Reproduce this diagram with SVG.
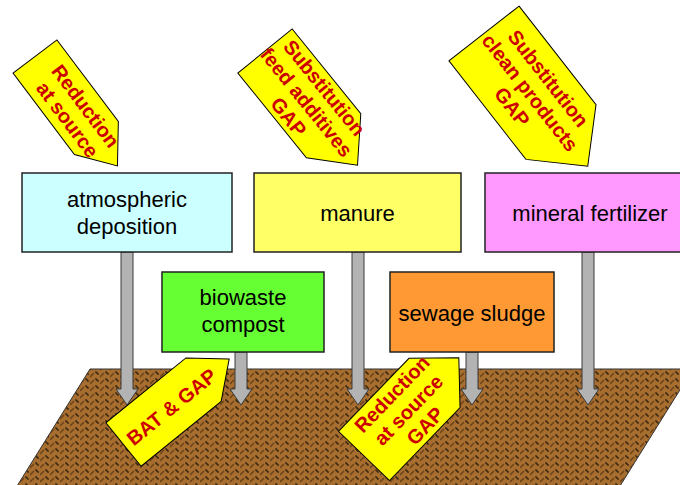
<svg xmlns="http://www.w3.org/2000/svg" xmlns:xlink="http://www.w3.org/1999/xlink" width="680" height="485" viewBox="0 0 680 485">
  <style>
    .box { stroke: #222; stroke-width: 1.5; }
    .lbl { font-family: "Liberation Sans", Arial, sans-serif; font-size: 22px; fill: #000; text-anchor: middle; }
    .tag { fill: #FFFF00; stroke: #000; stroke-width: 1; }
    .tagtxt { font-family: "Liberation Sans", Arial, sans-serif; font-size: 20px; font-weight: bold; fill: #CC0000; text-anchor: middle; }
    .flow { fill: #B3B3B3; stroke: #3a3a3a; stroke-width: 1; }
  </style>
  <defs>
    <pattern id="soilTex" width="10" height="7" patternUnits="userSpaceOnUse">
      <rect width="10" height="7" fill="#A86E30"/>
      <path d="M0,6 L4,2" stroke="#6E4519" stroke-width="1.6" fill="none"/>
      <path d="M5,1 H7 V3 H9" stroke="#1a1208" stroke-width="1" fill="none"/>
    </pattern>
    <!-- downward flow arrows, tip at the origin -->
    <path id="flowLong" d="M-6,-153 H6 V-16 H11 L0,0 L-11,-16 H-6 Z"/>
    <path id="flowShort" d="M-6,-53 H6 V-16 H11 L0,0 L-11,-16 H-6 Z"/>
  </defs>

  <rect width="680" height="485" fill="#FFFFFF"/>

  <!-- soil surface -->
  <g id="soil">
    <polygon points="90,369 693,369 620,486 17,486" fill="url(#soilTex)" stroke="#333" stroke-width="1"/>
  </g>

  <!-- flows from each source into the soil -->
  <g id="connectors">
    <use xlink:href="#flowLong" class="flow" x="127" y="405"/>
    <use xlink:href="#flowShort" class="flow" x="241" y="405"/>
    <use xlink:href="#flowLong" class="flow" x="358" y="405"/>
    <use xlink:href="#flowShort" class="flow" x="472" y="405"/>
    <use xlink:href="#flowLong" class="flow" x="588" y="405"/>
  </g>

  <g id="atmospheric-deposition">
    <rect class="box" x="22" y="173" width="210" height="79" fill="#CCFFFF"/>
    <text class="lbl" x="127" y="207">atmospheric</text>
    <text class="lbl" x="127" y="234">deposition</text>
  </g>

  <g id="manure">
    <rect class="box" x="254" y="173" width="207" height="79" fill="#FFFF66"/>
    <text class="lbl" x="357.5" y="221">manure</text>
  </g>

  <g id="mineral-fertilizer">
    <rect class="box" x="485" y="173" width="210" height="79" fill="#FF99FF"/>
    <text class="lbl" x="590" y="221">mineral fertilizer</text>
  </g>

  <g id="biowaste-compost">
    <rect class="box" x="162" y="272" width="162" height="80" fill="#66FF33"/>
    <text class="lbl" x="243" y="305">biowaste</text>
    <text class="lbl" x="243" y="332">compost</text>
  </g>

  <g id="sewage-sludge">
    <rect class="box" x="390" y="272" width="164" height="80" fill="#FF9933"/>
    <text class="lbl" x="472" y="321">sewage sludge</text>
  </g>

  <!-- measure tags -->
  <g id="tag-atmospheric" transform="translate(35,56.5) rotate(53)">
    <polygon class="tag" points="0,-27.5 102,-27.5 137,0 102,27.5 0,27.5"/>
    <text class="tagtxt" x="70" y="-3.5">Reduction</text>
    <text class="tagtxt" x="70" y="19">at source</text>
  </g>

  <g id="tag-manure" transform="translate(265,51) rotate(51)">
    <polygon class="tag" points="0,-35 109,-35 147,0 109,35 0,35"/>
    <text class="tagtxt" x="66" y="-16">Substitution</text>
    <text class="tagtxt" x="66" y="7">feed additives</text>
    <text class="tagtxt" x="66" y="30">GAP</text>
  </g>

  <g id="tag-mineral" transform="translate(484,33.5) rotate(52)">
    <polygon class="tag" points="0,-44.5 125,-44.5 168.5,0 125,44.5 0,44.5"/>
    <text class="tagtxt" x="75" y="-16">Substitution</text>
    <text class="tagtxt" x="75" y="7">clean products</text>
    <text class="tagtxt" x="75" y="30">GAP</text>
  </g>

  <g id="tag-biowaste" transform="translate(123.5,444.5) rotate(-39)">
    <polygon class="tag" points="0,-28 103,-28 136,0 103,28 0,28"/>
    <text class="tagtxt" x="61" y="8">BAT &amp; GAP</text>
  </g>

  <g id="tag-sewage" transform="translate(364,456) rotate(-46)">
    <polygon class="tag" points="0,-35.5 101.5,-35.5 136.5,0 101.5,35.5 0,35.5"/>
    <text class="tagtxt" x="64" y="-16">Reduction</text>
    <text class="tagtxt" x="64" y="7">at source</text>
    <text class="tagtxt" x="64" y="30">GAP</text>
  </g>
</svg>
